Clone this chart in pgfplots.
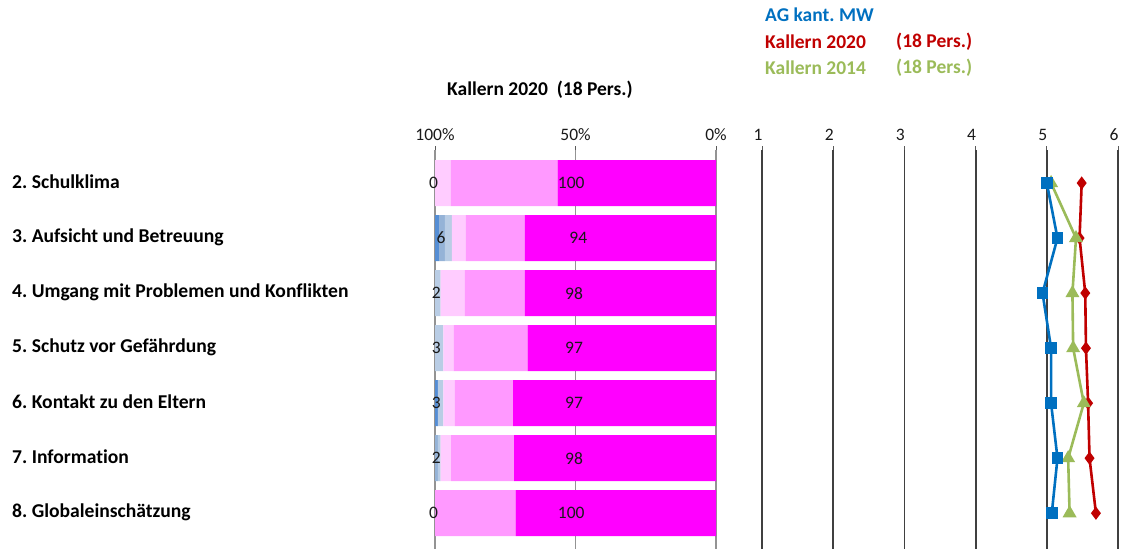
\documentclass[border=0pt]{standalone}
\usepackage{fontspec}
\setmainfont[Ligatures=NoCommon]{Carlito}
\usepackage{pgfplots}
\pgfplotsset{compat=1.18}
\definecolor{magA}{HTML}{FF00FF}
\definecolor{magB}{HTML}{FF99FF}
\definecolor{magC}{HTML}{FFCCFF}
\definecolor{bluC}{HTML}{B9CDE5}
\definecolor{bluB}{HTML}{95B3D7}
\definecolor{bluA}{HTML}{558ED5}
\definecolor{lnblue}{HTML}{0070C0}
\definecolor{lnred}{HTML}{C00000}
\definecolor{lngreen}{HTML}{9BBB59}
\begin{document}
\frenchspacing
\begin{tikzpicture}[x=1pt,y=1pt]
\useasboundingbox (0,0) rectangle (1121,549);
\pgfplotsset{
  base/.style={
    scale only axis, anchor=south west, height=399pt,
    ymin=-0.6, ymax=6.65, y dir=reverse, ytick=\empty,
    axis line style={draw=none},
    xtick pos=upper, xticklabel pos=upper, tick align=outside,
    major tick length=4pt,
    tick style={gray!70!black, line width=0.9pt},
    ticklabel style={font=\fontsize{17.5}{20}\selectfont, text=black!90},
    xticklabel style={yshift=2pt},
  }
}
% stacked bars
\begin{axis}[base, at={(435pt,0pt)}, width=281pt,
  xmin=0, xmax=100, x dir=reverse,
  xtick={0,50,100}, xticklabels={0\%,50\%,100\%},
  xmajorgrids, grid style={gray!85, line width=1.1pt},
  xbar stacked, bar width=46pt]
\addplot[fill=magA, draw=none] coordinates {(56.4,0) (68,1) (68,2) (67,3) (72.2,4) (71.8,5) (71.3,6)};
\addplot[fill=magB, draw=none] coordinates {(38.0,0) (21,1) (21.4,2) (26.4,3) (20.7,4) (22.5,5) (28.7,6)};
\addplot[fill=magC, draw=none] coordinates {(5.6,0) (5,1) (8.6,2) (3.6,3) (4.1,4) (3.7,5) (0,6)};
\addplot[fill=bluC, draw=none] coordinates {(0,0) (2.5,1) (2,2) (3,3) (2,4) (1,5) (0,6)};
\addplot[fill=bluB, draw=none] coordinates {(0,0) (2,1) (0,2) (0,3) (0,4) (1,5) (0,6)};
\addplot[fill=bluA, draw=none] coordinates {(0,0) (1.5,1) (0,2) (0,3) (1,4) (0,5) (0,6)};
\end{axis}
% value labels
\begin{axis}[base, at={(435pt,0pt)}, width=281pt,
  xmin=0, xmax=100, x dir=reverse, xtick=\empty, clip=false,
  nodes near coords, nodes near coords align=center,
  every node near coord/.append style={font=\fontsize{17.5}{20}\selectfont, text=black!90, inner sep=0pt}]
\addplot[draw=none, mark=none, point meta=explicit symbolic] coordinates {
 (51.5,0) [100] (49,1) [94] (50.5,2) [98] (50.5,3) [97] (50.5,4) [97] (50.5,5) [98] (51.5,6) [100]};
\addplot[draw=none, mark=none, point meta=explicit symbolic] coordinates {
 (100.5,0) [0] (97.8,1) [6] (99.5,2) [2] (99.5,3) [3] (99.5,4) [3] (99.5,5) [2] (100.5,6) [0]};
\end{axis}
% line chart
\begin{axis}[base, at={(762pt,0pt)}, width=356pt,
  xmin=1, xmax=6, xtick={1,2,3,4,5,6}, xticklabels={1,2,3,4,5,6},
  xticklabel style={xshift=-4pt},
  xmajorgrids, grid style={black!75, line width=1.8pt},
  clip=false]
\addplot[lnred, line width=2.6pt, mark=diamond*, mark size=4.5pt] coordinates {
 (5.49,0) (5.46,1) (5.54,2) (5.55,3) (5.58,4) (5.60,5) (5.69,6)};
\addplot[lngreen, line width=2.6pt, mark=triangle*, mark size=5.5pt] coordinates {
 (5.06,0) (5.41,1) (5.36,2) (5.37,3) (5.52,4) (5.30,5) (5.32,6)};
\addplot[lnblue, line width=2.6pt, mark=square*, mark size=4.5pt] coordinates {
 (5.00,0) (5.15,1) (4.94,2) (5.06,3) (5.06,4) (5.15,5) (5.07,6)};
\end{axis}
% category labels
\begin{scope}[every node/.style={anchor=west, font=\bfseries\fontsize{19.6}{22}\selectfont, text=black, inner sep=0pt}]
\node at (12,367) {2. Schulklima};
\node at (12,312) {3. Aufsicht und Betreuung};
\node at (12,257) {4. Umgang mit Problemen und Konflikten};
\node at (12,202) {5. Schutz vor Gefährdung};
\node at (12,147) {6. Kontakt zu den Eltern};
\node at (12,92) {7. Information};
\node at (12,37) {8. Globaleinschätzung};
\end{scope}
% titles / legend
\begin{scope}[every node/.style={anchor=west, font=\bfseries\fontsize{19.5}{22}\selectfont, inner sep=0pt}]
\node[text=black] at (447,459) {Kallern 2020\ \ (18 Pers.)};
\node[text=lnblue] at (765,534) {AG kant. MW};
\node[text=lnred] at (765,507) {Kallern 2020};
\node[text=lnred] at (896,507) {(18 Pers.)};
\node[text=lngreen] at (765,481) {Kallern 2014};
\node[text=lngreen] at (896,481) {(18 Pers.)};
\end{scope}
\end{tikzpicture}
\end{document}
